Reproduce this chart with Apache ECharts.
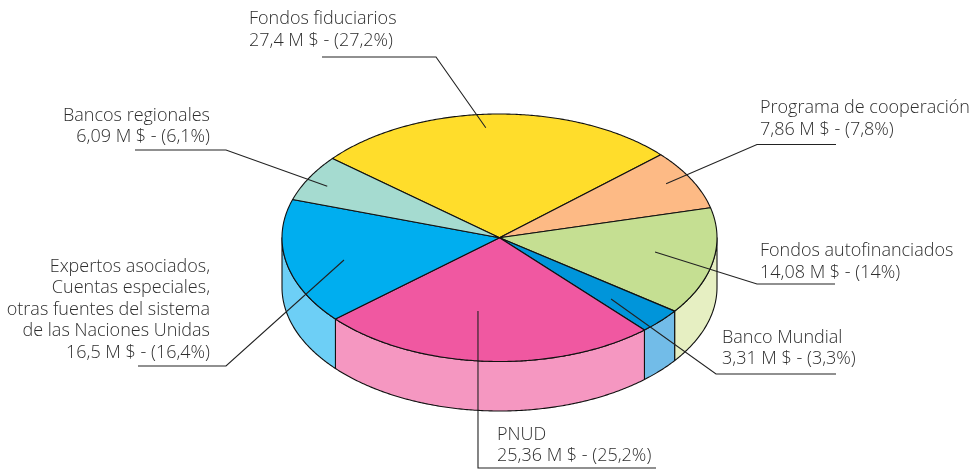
<!DOCTYPE html>
<html><head><meta charset="utf-8">
<style>html,body{margin:0;padding:0;background:#fff}#c{width:975px;height:472px}</style>
<script src="https://cdn.jsdelivr.net/npm/echarts@6/dist/echarts.min.js"></script>
</head><body><div id="c"></div>
<script>
// Data, in drawing order (clockwise from the top-left edge of the yellow slice)
const categories = ['Fondos fiduciarios','Programa de cooperación','Fondos autofinanciados','Banco Mundial','PNUD',
  'Expertos asociados,\nCuentas especiales,\notras fuentes del sistema\nde las Naciones Unidas','Bancos regionales'];
const amounts = [27.4,7.86,14.08,3.31,25.36,16.5,6.09];
const percents = [27.2,7.8,14,3.3,25.2,16.4,6.1];

// Styles
const topColors  = ['#FFDD2B','#FDBA85','#C5DF92','#0095DA','#F058A1','#00AEEF','#A5DBD0'];
const sideColors = ['#FFEE95','#FEDCC2','#E6EFC2','#72BCE8','#F597C1','#6DCFF6','#D2EDE7'];

// Layout
const startAngle = 140.2;       // degrees on the unit circle
const depthUnits = 0.4;         // pie thickness, in y-axis units
// Annotation layout: text anchor, alignment, leader tip (pie units), leader path (px)
const labelX = [249,760,760,722,497,210,210];
const labelY = [30,119,262,348.5,445.5,309.5,126.5];
const labelAlign = ['left','left','left','left','left','right','right'];
const tipUnits = [[-.063,.889],[.766,.437],[.715,-.115],[.513,-.495],[-.099,-.592],[-.715,-.18],[-.792,.416]];
const leaderPaths = [
  [[322,57],[436,57]],
  [[836,144.5],[757,144.5]],
  [[835,284],[757,284]],
  [[836,374],[716,374]],
  [[656,468],[478,468]],
  [[138,366],[226,366]],
  [[135,150],[226,150]]
];

const total = amounts.reduce((a,b)=>a+b,0);
let cursor = startAngle;
const sliceData = amounts.map((v,i)=>{const a0=cursor; cursor-=v/total*360; return [i,a0,cursor];});
const rad = d=>d*Math.PI/180;
const arcPts = (a0,a1,dy)=>{ // a0 > a1
  const n=Math.max(2,Math.ceil((a0-a1)*2)), pts=[];
  for(let k=0;k<=n;k++){const a=rad(a0+(a1-a0)*k/n); pts.push([Math.cos(a),Math.sin(a)+dy]);}
  return pts;
};
const textFont = '"Open Sans"';
const grid = {left:282,width:435,top:114,height:247.5};
const xAxis = {type:'value',min:-1,max:1,show:false};
const yAxis = {type:'value',min:-1,max:1,show:false};

const sideItem = (params,api)=>{
  const i=api.value(0), a0=Math.min(api.value(1),0), a1=Math.max(api.value(2),-180);
  if(a0<=a1) return {type:'group',children:[]};
  const top=arcPts(a0,a1,0), bot=arcPts(a0,a1,-depthUnits).reverse();
  return {type:'polygon',shape:{points:top.concat(bot).map(p=>api.coord(p))},
    style:{fill:sideColors[i],stroke:'#111',lineWidth:1.1,lineJoin:'round'}};
};
const topItem = (params,api)=>{
  const i=api.value(0), a0=api.value(1), a1=api.value(2);
  const pts=[[0,0]].concat(arcPts(a0,a1,0));
  return {type:'polygon',shape:{points:pts.map(p=>api.coord(p))},
    style:{fill:topColors[i],stroke:'#111',lineWidth:1.1,lineJoin:'round'}};
};
const noteItem = (params,api)=>{
  const i=api.value(0);
  const amt=String(amounts[i]).replace('.',','), pct=String(percents[i]).replace('.',',');
  const path=leaderPaths[i];
  return {type:'group',children:[
    {type:'polyline',shape:{points:path.concat([api.coord(tipUnits[i])])},
      style:{fill:null,stroke:'#222',lineWidth:1.1}},
    {type:'text',style:{x:labelX[i],y:labelY[i],text:categories[i]+'\n'+amt+' M $ - ('+pct+'%)',
      align:labelAlign[i],verticalAlign:'middle',font:'300 18px '+textFont,lineHeight:21.5,fill:'#2e2e2e'}}
  ]};
};
const common = {type:'custom',coordinateSystem:'cartesian2d',data:sliceData,clip:false,silent:true,animation:false,
  encode:{x:1,y:2}};
const chart = echarts.init(document.getElementById('c'),null,{renderer:'canvas'});
chart.setOption({animation:false,backgroundColor:'#fff',grid,xAxis,yAxis,
  series:[
    Object.assign({},common,{z:1,renderItem:sideItem}),
    Object.assign({},common,{z:2,renderItem:topItem}),
    Object.assign({},common,{z:3,renderItem:noteItem})
  ]});
</script></body></html>
